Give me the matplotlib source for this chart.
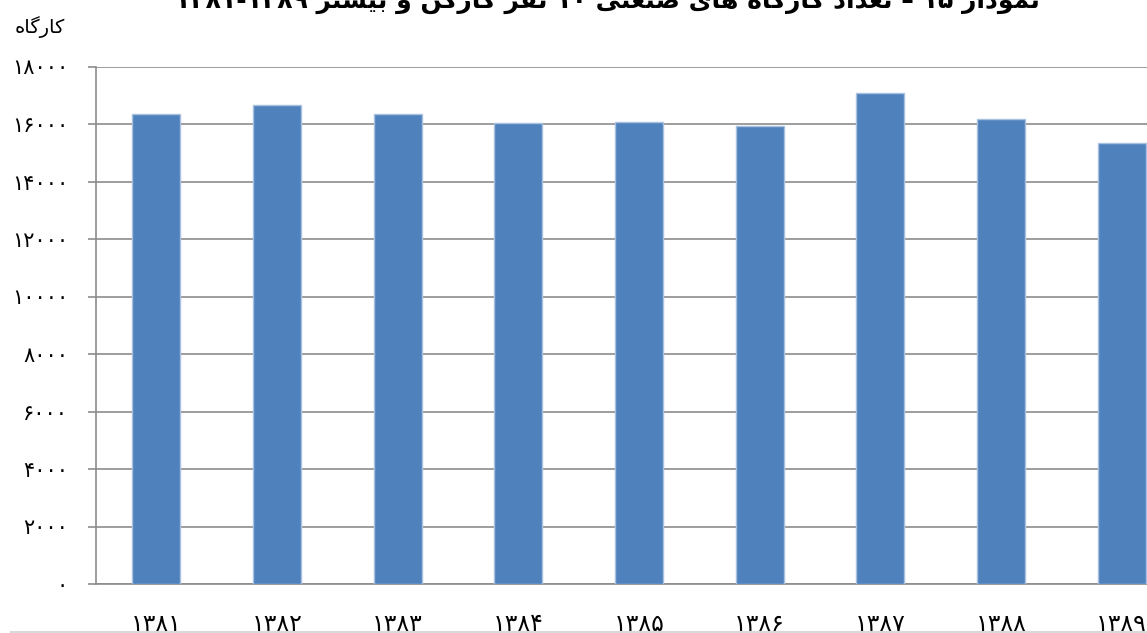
import matplotlib
matplotlib.use("Agg")
import matplotlib.pyplot as plt
from matplotlib.lines import Line2D

# ===============================
# data
# ===============================
years = ["1381", "1382", "1383", "1384", "1385", "1386", "1387", "1388", "1389"]
counts = [16340, 16660, 16340, 16020, 16080, 15920, 17090, 16160, 15330]
yticks = [0, 2000, 4000, 6000, 8000, 10000, 12000, 14000, 16000, 18000]
title_fa = "نمودار ۱۵ – تعداد کارگاه های صنعتی ۱۰ نفر کارکن و بیشتر ۱۳۸۱-۱۳۸۹"
unit_fa = "کارگاه"

# ===============================
# simple persian shaping (no arabic_reshaper / bidi here)
# ===============================
FA_DIGITS = str.maketrans("0123456789", "۰۱۲۳۴۵۶۷۸۹")

# isolated, final, initial, medial
FORMS = {
    "ا": ("\uFE8D", "\uFE8E", None, None),
    "ب": ("\uFE8F", "\uFE90", "\uFE91", "\uFE92"),
    "ت": ("\uFE95", "\uFE96", "\uFE97", "\uFE98"),
    "د": ("\uFEA9", "\uFEAA", None, None),
    "ر": ("\uFEAD", "\uFEAE", None, None),
    "ش": ("\uFEB5", "\uFEB6", "\uFEB7", "\uFEB8"),
    "ص": ("\uFEB9", "\uFEBA", "\uFEBB", "\uFEBC"),
    "ع": ("\uFEC9", "\uFECA", "\uFECB", "\uFECC"),
    "ف": ("\uFED1", "\uFED2", "\uFED3", "\uFED4"),
    "م": ("\uFEE1", "\uFEE2", "\uFEE3", "\uFEE4"),
    "ن": ("\uFEE5", "\uFEE6", "\uFEE7", "\uFEE8"),
    "ه": ("\uFEE9", "\uFEEA", "\uFEEB", "\uFEEC"),
    "و": ("\uFEED", "\uFEEE", None, None),
    "ک": ("\uFB8E", "\uFB8F", "\uFB90", "\uFB91"),
    "گ": ("\uFB92", "\uFB93", "\uFB94", "\uFB95"),
    "ی": ("\uFBFC", "\uFBFD", "\uFBFE", "\uFBFF"),
}


def shape_word(w):
    out = []
    for i, ch in enumerate(w):
        if ch not in FORMS:
            out.append(ch)
            continue
        prev = w[i - 1] if i > 0 else None
        nxt = w[i + 1] if i + 1 < len(w) else None
        iso, fin, ini, med = FORMS[ch]
        j_prev = prev in FORMS and FORMS[prev][2] is not None
        j_next = nxt in FORMS and ini is not None
        if j_prev and j_next:
            out.append(med)
        elif j_prev:
            out.append(fin)
        elif j_next:
            out.append(ini)
        else:
            out.append(iso)
    s = "".join(out)
    if any(c in FORMS for c in w):
        s = s[::-1]
    return s


def rtl(text):
    return " ".join(shape_word(w) for w in text.split(" ")[::-1])


# ===============================
# figure
# ===============================
W, H = 1147, 633
fig = plt.figure(figsize=(W / 100, H / 100), dpi=100)
# plot area runs past the right edge like the cropped original
ax = fig.add_axes([96 / W, 49 / H, 1086 / W, 517.5 / H])

x = list(range(len(years)))
ax.bar(x, counts, width=0.4, color="#4F81BD", edgecolor="#a8c1df", linewidth=1, zorder=3)

ax.set_xlim(-0.5, len(years) - 0.5)
ax.set_ylim(0, 18000)
ax.set_yticks(yticks)
ax.set_yticklabels([str(v).translate(FA_DIGITS) for v in yticks], fontsize=15)
ax.set_xticks(x)
ax.set_xticklabels([y.translate(FA_DIGITS) for y in years], fontsize=17)

ax.grid(axis="y", color="#8c8c8c", linewidth=1.2, zorder=0)
for side in ["top", "right"]:
    ax.spines[side].set_visible(False)
for side in ["left", "bottom"]:
    ax.spines[side].set_color("#8c8c8c")
    ax.spines[side].set_linewidth(1.2)

ax.tick_params(axis="y", direction="out", length=6, width=1.2, color="#8c8c8c", pad=14)
ax.tick_params(axis="x", length=0, pad=20)

fig.text(0.53, 1.0, rtl(title_fa), ha="center", va="center", fontsize=18, fontweight="bold")
fig.text(40 / W, 1 - 27 / H, rtl(unit_fa), ha="center", va="center", fontsize=14)

# faint frame line at the very bottom
fig.add_artist(Line2D([0.01, 1.0], [0.002, 0.002], color="#d9d9d9", linewidth=1.5,
                      transform=fig.transFigure))

fig.savefig("out.png", dpi=100)
